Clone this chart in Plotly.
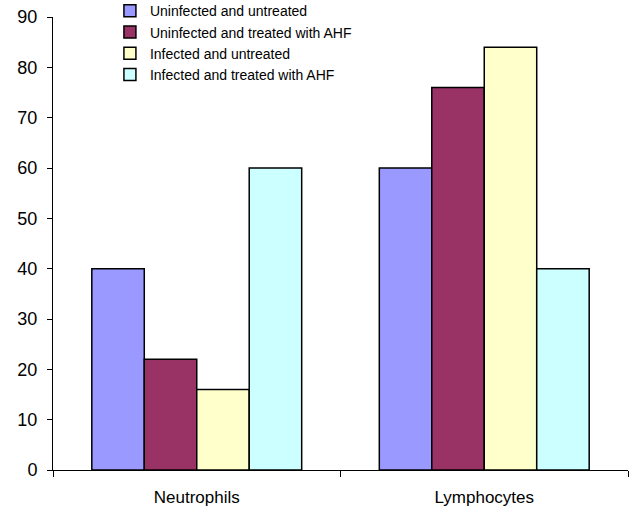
import plotly.graph_objects as go

categories = ["Neutrophils", "Lymphocytes"]
series_names = [
    "Uninfected and untreated",
    "Uninfected and treated with AHF",
    "Infected and untreated",
    "Infected and treated with AHF",
]
series_values = [
    [40, 60],
    [22, 76],
    [16, 84],
    [60, 40],
]
colors = ["#9999FF", "#993366", "#FFFFCC", "#CCFFFF"]
y_ticks = [0, 10, 20, 30, 40, 50, 60, 70, 80, 90]

fig = go.Figure()
for name, vals, c in zip(series_names, series_values, colors):
    fig.add_trace(go.Bar(
        x=categories, y=vals, name=name,
        marker=dict(color=c, line=dict(color="black", width=1.5)),
    ))

fig.update_layout(
    width=638, height=513,
    margin=dict(l=53, r=10, t=17, b=43, autoexpand=False),
    paper_bgcolor="white", plot_bgcolor="white",
    font=dict(family="Liberation Sans, Arial, sans-serif", color="black"),
    barmode="group", bargap=0.27, bargroupgap=0,
    showlegend=True,
    legend=dict(
        x=0.099, y=1.048, xanchor="left", yanchor="top",
        font=dict(size=14), bgcolor="rgba(0,0,0,0)",
        tracegroupgap=0, itemwidth=30,
    ),
    xaxis=dict(
        showline=True, linecolor="black", linewidth=1,
        ticks="outside", tickson="boundaries", ticklen=6, tickcolor="black",
        tickfont=dict(size=17), showgrid=False, ticklabelstandoff=12,
    ),
    yaxis=dict(
        range=[0, 90], tickvals=y_ticks, showline=True, linecolor="black",
        linewidth=1, ticks="outside", ticklen=5, tickcolor="black",
        tickfont=dict(size=18), showgrid=False, zeroline=False,
        ticklabelstandoff=6, ticklabeloverflow="allow",
    ),
)

fig.write_html(
    "out.html",
    config={"displayModeBar": False},
    post_script="document.body.style.margin='0px';",
)
